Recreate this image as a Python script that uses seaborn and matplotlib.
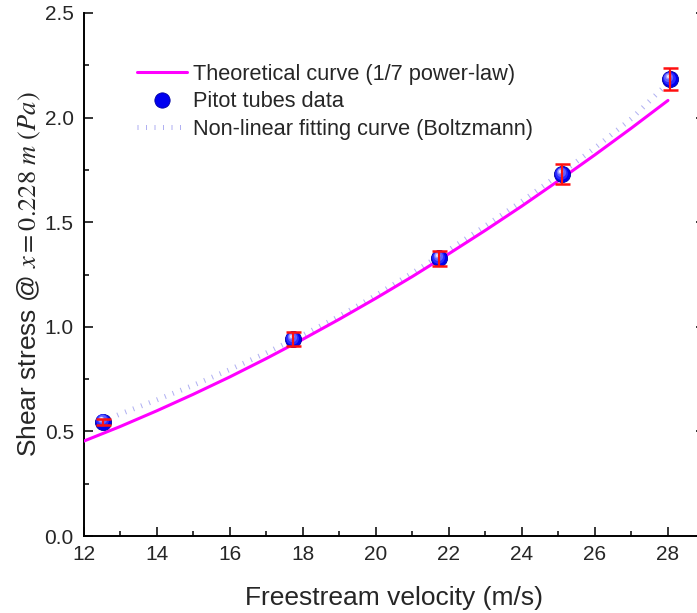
import matplotlib
matplotlib.use("Agg")
import matplotlib.pyplot as plt
import matplotlib.transforms as mtransforms
from matplotlib.lines import Line2D
from matplotlib.ticker import MultipleLocator
import seaborn as sns
import pandas as pd

# ---- data ----
pitot_velocity = [12.54, 17.74, 21.73, 25.1, 28.05]
pitot_stress = [0.546, 0.942, 1.327, 1.73, 2.183]
pitot_error = [0.015, 0.033, 0.035, 0.047, 0.052]

theory_velocity = [12, 13, 14, 15, 16, 17, 18, 19, 20, 21, 22, 23, 24, 25, 26, 27, 28]
theory_stress = [0.453, 0.523, 0.598, 0.677, 0.760, 0.848, 0.940, 1.036, 1.136,
                 1.240, 1.349, 1.461, 1.577, 1.698, 1.822, 1.950, 2.082]

fit_velocity = [12.5, 13, 14, 15, 16, 17, 18, 19, 20, 21, 22, 23, 24, 25, 26, 27, 28]
fit_stress = [0.545, 0.583, 0.65, 0.72, 0.795, 0.875, 0.96, 1.05, 1.15,
              1.257, 1.367, 1.482, 1.60, 1.725, 1.855, 1.995, 2.165]

x_ticks = [12, 14, 16, 18, 20, 22, 24, 26, 28]
y_ticks = [0.0, 0.5, 1.0, 1.5, 2.0, 2.5]

legend_labels = ["Theoretical curve (1/7 power-law)", "Pitot tubes data",
                 "Non-linear fitting curve (Boltzmann)"]

# ---- style ----
sns.set_style("ticks")
plt.rcParams['font.family'] = ['Liberation Sans', 'DejaVu Sans']
plt.rcParams['mathtext.fontset'] = 'stix'

fig = plt.figure(figsize=(6.97, 6.13), dpi=100)
ax = fig.add_axes([83.5 / 697, 77 / 613, 621 / 697, 523 / 613])

theory_df = pd.DataFrame({"v": theory_velocity, "tau": theory_stress})
fit_df = pd.DataFrame({"v": fit_velocity, "tau": fit_stress})
pitot_df = pd.DataFrame({"v": pitot_velocity, "tau": pitot_stress})

fit_color = '#b0b0f2'
fit_ls = (0, (0.2, 1.5))
sns.lineplot(data=fit_df, x="v", y="tau", ax=ax, color=fit_color, linewidth=3.6,
             linestyle=fit_ls, zorder=2, legend=False)
sns.lineplot(data=theory_df, x="v", y="tau", ax=ax, color='#ff00ff', linewidth=2.2,
             zorder=3, legend=False)

# sphere-like markers
sns.scatterplot(data=pitot_df, x="v", y="tau", ax=ax, s=135, color='#0000f0',
                edgecolor='#0000a0', linewidth=0.6, zorder=4, legend=False)
layers = [(85, '#2a2aff', -0.6, 1.0), (45, '#6060ff', -1.0, 1.7),
          (18, '#a0a0ff', -1.3, 2.1), (5, '#e8e8ff', -1.5, 2.4)]
for s, c, dx, dy in layers:
    tr = mtransforms.offset_copy(ax.transData, fig=fig, x=dx, y=dy, units='points')
    sns.scatterplot(data=pitot_df, x="v", y="tau", ax=ax, s=s, color=c,
                    linewidth=0, zorder=4.1, legend=False, transform=tr)

ax.errorbar(pitot_velocity, pitot_stress, yerr=pitot_error, fmt='none',
            ecolor='#ff1010', elinewidth=1.6, capsize=5.4, capthick=1.8, zorder=5)

# ---- axes ----
ax.set_xlim(12, 29)
ax.set_ylim(0, 2.5)
ax.set_xticks(x_ticks)
ax.set_yticks(y_ticks)
ax.set_yticklabels([f"{v:.1f}" for v in y_ticks])
ax.xaxis.set_minor_locator(MultipleLocator(1))
ax.yaxis.set_minor_locator(MultipleLocator(0.25))
ax.tick_params(which='both', direction='in', width=1.1, color='black',
               right=True, top=False)
ax.tick_params(which='major', length=6.5, labelsize=15)
ax.tick_params(which='minor', length=3.6)
ax.tick_params(axis='x', pad=6.5)
ax.tick_params(axis='y', pad=7)
for side in ['left', 'bottom', 'right']:
    ax.spines[side].set_linewidth(1.4)
    ax.spines[side].set_color('black')
ax.spines['top'].set_visible(False)

ax.set_xlabel("Freestream velocity (m/s)", fontsize=19, labelpad=16)
ax.set_ylabel(r"Shear stress @ $x = 0.228\ m\ (Pa)$", fontsize=19, labelpad=1)

handles = [
    Line2D([], [], color='#ff00ff', linewidth=2.2),
    Line2D([], [], linestyle='none', marker='o', markersize=11, markerfacecolor='#0000f0',
           markeredgecolor='#0000a0', markeredgewidth=0.6),
    Line2D([], [], color=fit_color, linewidth=3.6, linestyle=fit_ls),
]
ax.legend(handles, legend_labels, loc='upper left', bbox_to_anchor=(0.086, 0.903),
          frameon=False, fontsize=15.7, handlelength=2.3, handletextpad=0.28,
          labelspacing=0.3, borderpad=0, borderaxespad=0)

fig.savefig("out.png", dpi=100)
